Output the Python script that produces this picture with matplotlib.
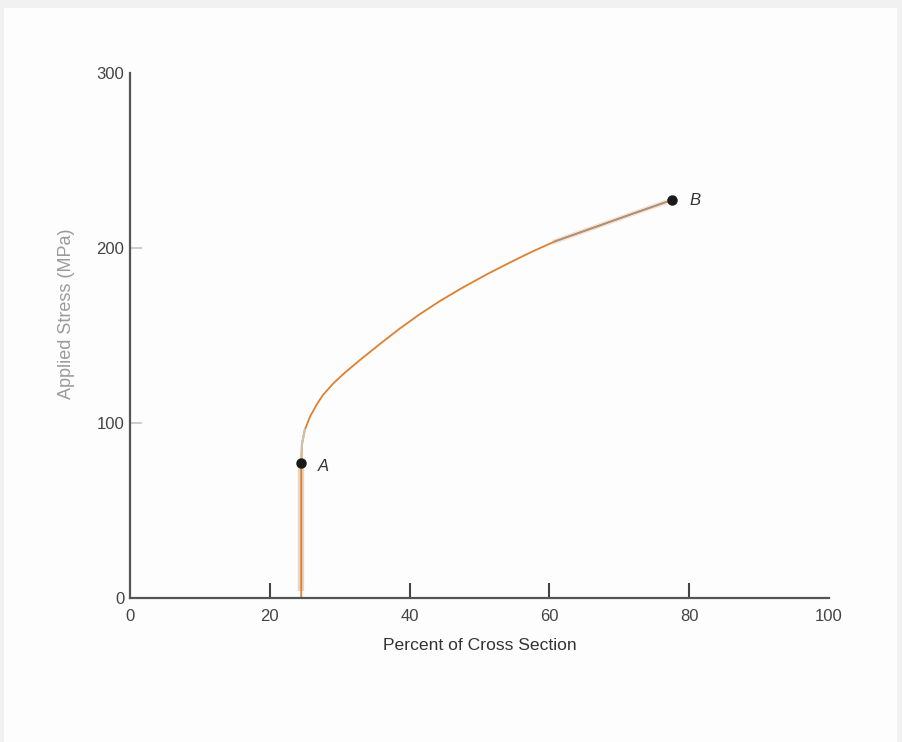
import numpy as np
import matplotlib.pyplot as plt
from matplotlib.patches import Rectangle
from matplotlib.ticker import FixedLocator

# data
curve_x = [24.5, 24.5, 24.5, 24.6, 25.0, 25.75, 26.7, 27.6, 29.1, 30.8, 32.9, 35.8, 38.6,
           41.5, 44.3, 47.2, 50.1, 51.5, 54.4, 57.2, 60.8, 65.8, 71.5, 77.5]
curve_y = [0, 40, 77, 88, 96, 103.6, 110.5, 116, 122.7, 129.0, 136.0, 145.3, 154.0,
           162.3, 169.6, 176.5, 182.9, 185.9, 191.8, 197.3, 203.8, 210.9, 219.0, 227.4]
point_names = ['A', 'B']
point_x = [24.5, 77.5]
point_y = [77, 227.4]
x_ticks = [0, 20, 40, 60, 80, 100]
y_ticks = [0, 100, 200, 300]

plt.rcParams['font.family'] = ['Liberation Sans', 'DejaVu Sans']

fig = plt.figure(figsize=(9.03, 7.42), dpi=100, facecolor='#fdfdfd')
# faint scan frame
for (fx, fy, fw, fh) in [(0, 1 - 8/742, 1, 8/742), (0, 0, 4/903, 1), (1 - 6/903, 0, 6/903, 1)]:
    fig.patches.append(Rectangle((fx, fy), fw, fh, transform=fig.transFigure,
                                 color='#f1f1f1', lw=0, zorder=0))

ax = fig.add_axes([130/903, 144/742, 699/903, 525/742])
ax.set_facecolor('#fdfdfd')

# light band behind lower vertical part and the last stretch
ax.plot([24.5, 24.5], [4, 77], color='#ead3bf', lw=4.5, solid_capstyle='butt', zorder=1)
ax.plot(curve_x, curve_y, color='#e07f2e', lw=1.3, zorder=2)
ax.plot(curve_x[-4:], curve_y[-4:], color='#f5e2d2', lw=3.5, zorder=1.5)
ax.plot(curve_x[-4:], curve_y[-4:], color='#a0958d', lw=1.1, zorder=2.5)
ax.plot(curve_x[2:5], curve_y[2:5], color='#cdc1ae', lw=1.6, zorder=2.5)
ax.plot(point_x, point_y, 'o', color='#1a1a1a', ms=6.5, zorder=3)
ax.text(point_x[0] + 2.3, point_y[0] - 2, point_names[0], style='italic', fontsize=12,
        color='#333333', va='center', ha='left')
ax.text(point_x[1] + 2.6, point_y[1] - 0.5, point_names[1], style='italic', fontsize=12,
        color='#333333', va='center', ha='left')

ax.set_xlim(0, 100)
ax.set_ylim(0, 300)
for s in ['top', 'right']:
    ax.spines[s].set_visible(False)
for s in ['left', 'bottom']:
    ax.spines[s].set_color('#555555')
    ax.spines[s].set_linewidth(1.6)

ax.xaxis.remove_overlapping_locs = False
ax.yaxis.remove_overlapping_locs = False
ax.set_xticks(x_ticks)
ax.set_yticks(y_ticks)
ax.xaxis.set_minor_locator(FixedLocator(x_ticks[1:-1]))
ax.yaxis.set_minor_locator(FixedLocator(y_ticks[1:-1]))
ax.tick_params(which='major', length=0, labelsize=12, labelcolor='#444444')
ax.tick_params(axis='x', which='major', pad=8)
ax.tick_params(axis='y', which='major', pad=4)
ax.tick_params(axis='x', which='minor', direction='in', length=10.5, width=1.5, color='#444444')
ax.tick_params(axis='y', which='minor', direction='in', length=8.5, width=1.4, color='#cccccc')

ax.set_xlabel('Percent of Cross Section', fontsize=12.6, color='#333333', labelpad=10)
ax.set_ylabel('Applied Stress (MPa)', fontsize=13, color='#9a9a9a')
ax.yaxis.set_label_coords(-0.0787, 0.541)

fig.savefig('out.png', dpi=100, facecolor=fig.get_facecolor())
